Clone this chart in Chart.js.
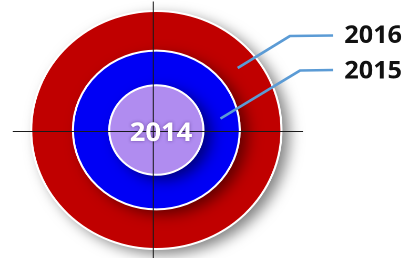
<!DOCTYPE html>
<html>
<head>
<meta charset="utf-8">
<script src="https://cdn.jsdelivr.net/npm/chart.js@4.4.1/dist/chart.umd.min.js"></script>
<style>
  html, body { margin: 0; padding: 0; background: #ffffff; overflow: hidden; }
  #stage { width: 410px; height: 258px; position: relative; overflow: hidden; }
  #wrap { position: absolute; left: 0; top: 0; width: 390px; height: 258px;
          transform: scaleX(1.0513); transform-origin: 0 0; }
</style>
</head>
<body>
<div id="stage"><div id="wrap"><canvas id="c"></canvas></div></div>
<script>
// ---- data (outermost ring first) ----
const years = ['2016', '2015', '2014'];
const values = [1, 1, 1];            // each year is one full ring
const ringWeights = [39.5, 34.4, 44.6];
const centerLabel = '2014';
const calloutYears = ['2016', '2015'];

const ringColors = ['#C00000', '#0000F5', '#B08CF0'];

const shadowPlugin = {
  id: 'ringShadow',
  beforeDatasetDraw(chart) {
    const ctx = chart.ctx, r = chart.currentDevicePixelRatio || 1;
    ctx.save();
    ctx.shadowColor = 'rgba(0,0,0,0.5)';
    ctx.shadowBlur = 14 * r;
    ctx.shadowOffsetX = 7 * r;
    ctx.shadowOffsetY = 5 * r;
  },
  afterDatasetDraw(chart, args) {
    const ctx = chart.ctx;
    ctx.restore();
    // white outline round the ring's outer edge
    const el = chart.getDatasetMeta(args.index).data[0];
    ctx.save();
    ctx.strokeStyle = '#ffffff';
    ctx.lineWidth = 2;
    ctx.beginPath();
    ctx.arc(el.x, el.y, el.outerRadius, 0, Math.PI * 2);
    ctx.stroke();
    ctx.restore();
  }
};

const overlayPlugin = {
  id: 'overlay',
  afterDatasetsDraw(chart, args, opts) {
    const ctx = chart.ctx;
    const outer = chart.getDatasetMeta(0).data[0];
    const cx = outer.x, cy = outer.y;

    // crosshair
    ctx.save();
    ctx.strokeStyle = '#1a1a1a';
    ctx.lineWidth = 1;
    ctx.beginPath();
    ctx.moveTo(cx - 136.6, cy + 1.5);
    ctx.lineTo(cx + 139.5, cy + 1.5);
    ctx.moveTo(cx - 2.9, cy - 128.5);
    ctx.lineTo(cx - 2.9, cy + 140);
    ctx.stroke();
    ctx.restore();

    // centre label
    ctx.save();
    ctx.font = 'bold 26px "Open Sans", sans-serif';
    ctx.textAlign = 'center';
    ctx.textBaseline = 'alphabetic';
    ctx.fillStyle = '#ffffff';
    ctx.shadowColor = 'rgba(40,0,80,0.45)';
    ctx.shadowBlur = 3 * (chart.currentDevicePixelRatio || 1);
    ctx.fillText(centerLabel, cx + 4.4, cy + 11);
    ctx.restore();

    // callouts
    opts.callouts.forEach((c, i) => {
      const el = chart.getDatasetMeta(c.ring).data[0];
      const midR = (el.innerRadius + el.outerRadius) / 2;
      const a = c.angle * Math.PI / 180;
      const sx = cx + midR * Math.cos(a), sy = cy + midR * Math.sin(a);
      ctx.save();
      ctx.strokeStyle = '#5B9BD5';
      ctx.lineWidth = 2.6;
      ctx.lineJoin = 'round';
      ctx.beginPath();
      ctx.moveTo(sx, sy);
      ctx.lineTo(c.bend[0], c.bend[1]);
      ctx.lineTo(c.end[0], c.end[1]);
      ctx.stroke();
      ctx.font = 'bold 24px "Open Sans", sans-serif';
      ctx.textAlign = 'right';
      ctx.textBaseline = 'alphabetic';
      ctx.fillStyle = '#111111';
      ctx.fillText(calloutYears[i], c.textX, c.textY);
      ctx.restore();
    });
  }
};

new Chart(document.getElementById('c'), {
  type: 'doughnut',
  data: {
    labels: years,
    datasets: years.map((y, i) => ({
      label: y,
      data: [values[i]],
      weight: ringWeights[i],
      backgroundColor: ringColors[i],
      borderWidth: 0,
      order: years.length - 1 - i,
      clip: false
    }))
  },
  options: {
    responsive: true,
    maintainAspectRatio: false,
    devicePixelRatio: 2,
    animation: false,
    events: [],
    cutout: 0,
    radius: 119,
    layout: { padding: { left: 0, right: 92.6, top: 2, bottom: 0 } },
    plugins: {
      legend: { display: false },
      tooltip: { enabled: false },
      overlay: {
        callouts: [
          { ring: 0, angle: -38.7, bend: [275.8, 36], end: [317, 35.5], textX: 382.4, textY: 43.1 },
          { ring: 1, angle: -10.6, bend: [285.4, 70.5], end: [317, 70], textX: 382.4, textY: 78.6 }
        ]
      }
    }
  },
  plugins: [shadowPlugin, overlayPlugin]
});
</script>
</body>
</html>
